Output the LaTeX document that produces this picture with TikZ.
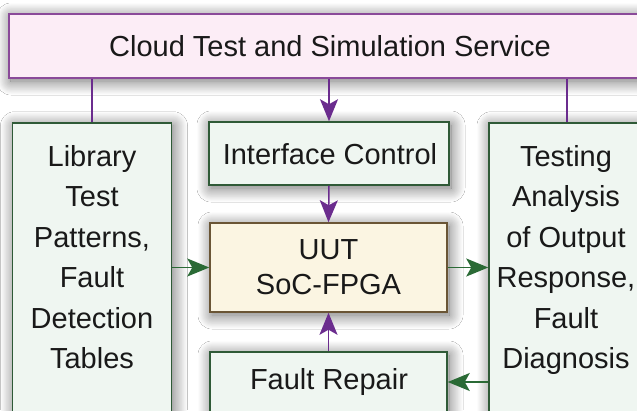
\documentclass[tikz,border=0pt]{standalone}
\usepackage{fontspec}
\setmainfont{Liberation Sans}
\usetikzlibrary{arrows.meta,shadows.blur}
\definecolor{pinkfill}{HTML}{FCEDF6}
\definecolor{purpleline}{HTML}{8A4A99}
\definecolor{purplearrow}{HTML}{6B2C8E}
\definecolor{greenfill}{HTML}{EFF6F1}
\definecolor{greenline}{HTML}{2F5A37}
\definecolor{greenarrow}{HTML}{2A6A35}
\definecolor{creamfill}{HTML}{FBF5E2}
\definecolor{brownline}{HTML}{6A5535}
\tikzset{
  shad/.style={blur shadow={shadow xshift=2pt, shadow yshift=-3pt, shadow blur radius=14pt, shadow blur steps=20, shadow opacity=60}},
  cloudbox/.style={draw=purpleline, fill=pinkfill, line width=1.5pt, shad, inner sep=0pt},
  greenbox/.style={draw=greenline, fill=greenfill, line width=1.5pt, shad, inner sep=0pt},
  uutbox/.style={draw=brownline, fill=creamfill, line width=1.5pt, shad, inner sep=0pt},
  txt/.style={align=center, inner sep=0pt, text=black!90, font=\fontsize{29}{40.5}\selectfont},
  uuttxt/.style={align=center, inner sep=0pt, text=black!90, font=\fontsize{29}{35}\selectfont},
  tipstyle/.style={-{Stealth[length=22pt,width=18pt,inset=5pt]}},
  parrow/.style={draw=purplearrow, line width=1.5pt, tipstyle, color=purplearrow},
  pline/.style={draw=purplearrow, line width=1.5pt},
  garrow/.style={draw=greenarrow, line width=1.5pt, tipstyle, color=greenarrow},
}
\begin{document}
\begin{tikzpicture}[x=1pt,y=-1pt]
\useasboundingbox (0,0) rectangle (637,410);
\clip (0,0) rectangle (637,410);
\fill[white] (0,0) rectangle (637,410);

% boxes
\node[cloudbox, minimum width=642pt, minimum height=64pt] (cloud) at (330,46) {};
\node[txt] (cloudt) at (330,46) {Cloud Test and Simulation Service};

\node[greenbox, minimum width=159pt, minimum height=330pt, anchor=north] (lib) at (92,122) {};
\node[txt, anchor=north] (libt) at (92,145) {Library\\Test\\Patterns,\\Fault\\Detection\\Tables};

\node[greenbox, minimum width=156pt, minimum height=330pt, anchor=north] (res) at (567,122) {};
\node[txt, anchor=north] (rest) at (566,145) {Testing\\Analysis\\of Output\\Response,\\Fault\\Diagnosis};

\node[greenbox, minimum width=240pt, minimum height=63pt] (iface) at (329,153.5) {};
\node[txt] (ifacet) at (330,154.5) {Interface Control};

\node[uutbox, minimum width=237pt, minimum height=89pt] (uut) at (328.5,267.5) {};
\node[uuttxt] (uutt) at (328.5,267) {UUT\\SoC-FPGA};

\node[greenbox, minimum width=237pt, minimum height=60pt] (rep) at (328.5,382) {};
\node[txt] (rept) at (329,382) {Fault Repair};

% connectors
\draw[parrow] (cloud.south -| iface.north) -- (iface.north);
\draw[pline] (lib.north) -- (lib.north |- cloud.south);
\draw[pline] (res.north) -- (res.north |- cloud.south);
\draw[parrow] (iface.south) -- (uut.north);
\draw[parrow] (rep.north) -- (uut.south);
\draw[garrow] (uut.west -| lib.east) -- (uut.west);
\draw[garrow] (uut.east) -- (uut.east -| res.west);
\draw[garrow] (rep.east -| res.west) -- (rep.east);
\end{tikzpicture}
\end{document}
